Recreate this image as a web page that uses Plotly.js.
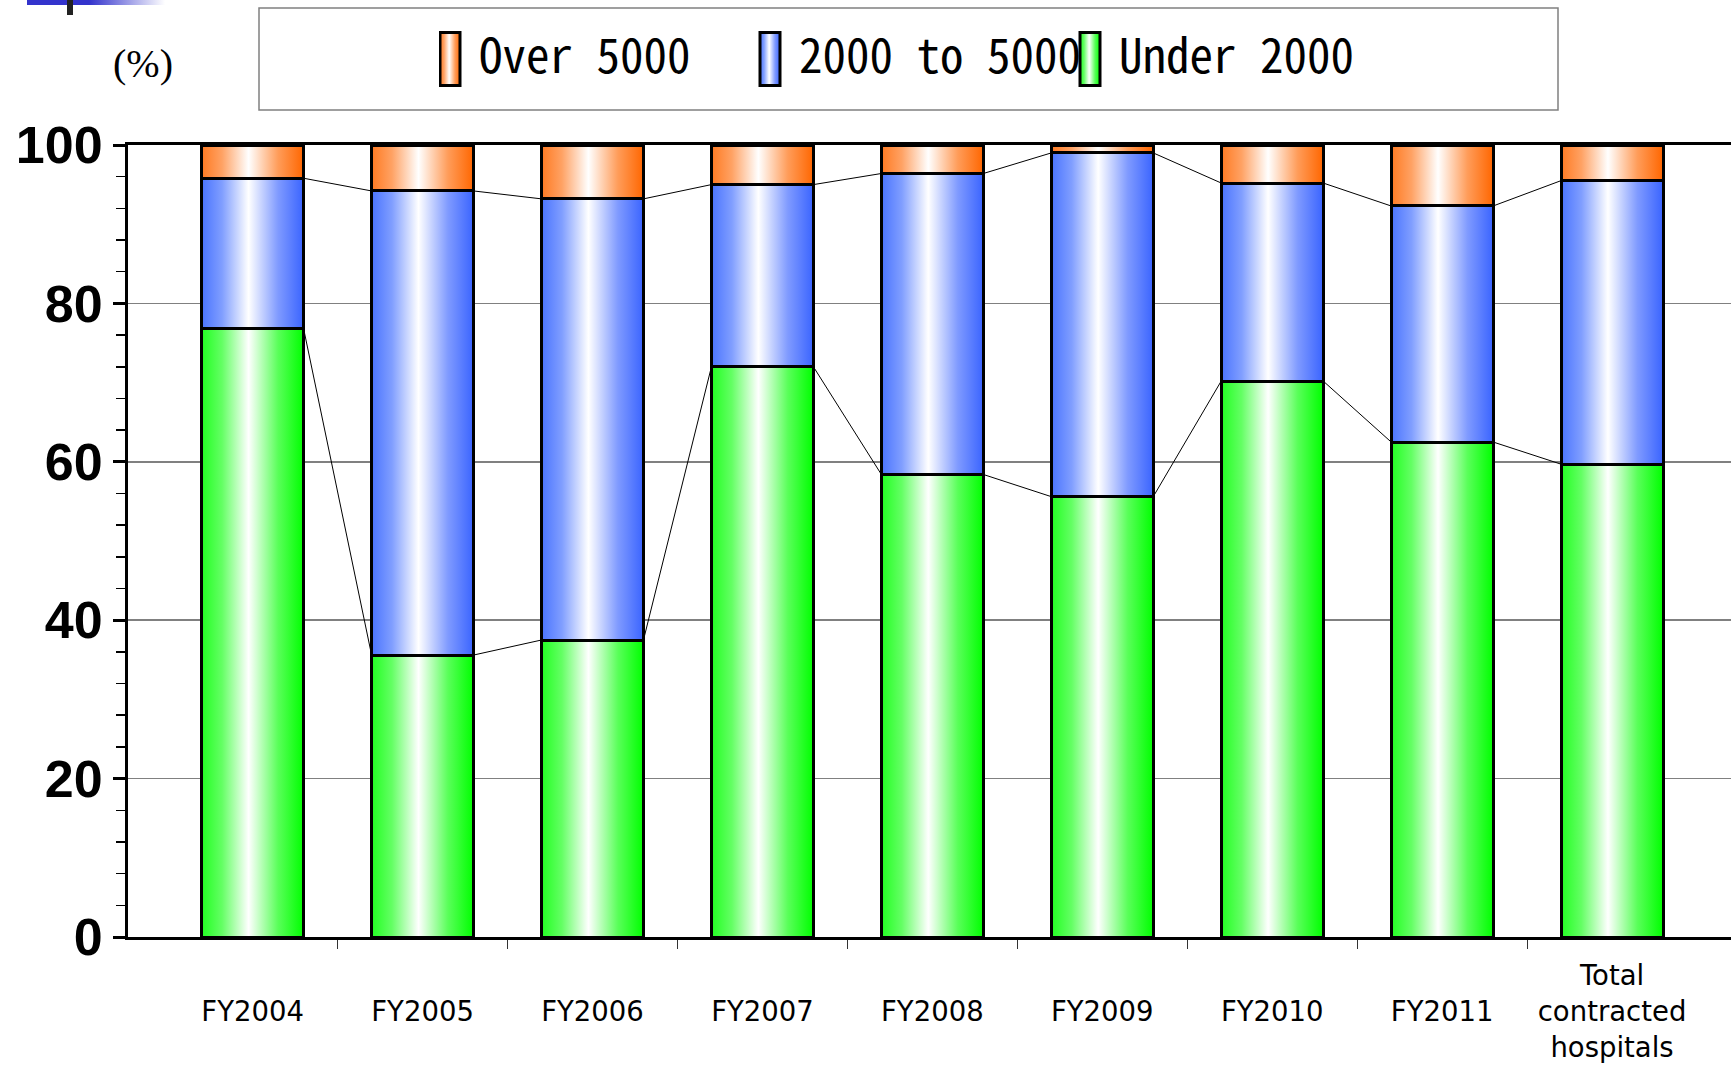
<!DOCTYPE html>
<html><head><meta charset="utf-8">
<script src="https://cdn.plot.ly/plotly-3.0.1.min.js"></script>
<style>html,body{margin:0;padding:0;background:#fff}#chart{width:1731px;height:1065px}</style>
</head><body><div id="chart"></div>
<script>
// ---- data ----
const categories = ["FY2004","FY2005","FY2006","FY2007","FY2008","FY2009","FY2010","FY2011","Total<br>contracted<br>hospitals"];
const seriesNames = ["Under 2000","2000 to 5000","Over 5000"];
const under2000      = [76.8, 35.6, 37.5, 72.0, 58.4, 55.6, 70.2, 62.5, 59.7];
const from2000to5000 = [19.0, 58.6, 55.7, 23.0, 38.0, 43.4, 25.0, 29.8, 35.8];
const over5000       = [ 4.2,  5.8,  6.8,  5.0,  3.6,  1.0,  4.8,  7.7,  4.5];
const yTickVals = [0, 20, 40, 60, 80, 100];

// ---- styling ----
const edgeColors = {"Under 2000":["#22ff22","#00ff00"], "2000 to 5000":["#4a74ff","#3a64ff"], "Over 5000":["#ff7a22","#ff6600"]};
const BARW = 0.6;
const xIdx = categories.map((c,i)=>i);
const tickText = categories.map(c => c.indexOf("<br>")>=0 ? c : "\u00a0<br>" + c);
const boundaries = categories.slice(1).map((c,i)=>i+0.5);

function barTrace(name, y){
  return {type:'bar', name:name, x:xIdx, y:y, width:BARW,
    marker:{color:edgeColors[name][1], line:{color:'#000', width:3}}, hoverinfo:'skip'};
}
function seriesLine(cum){
  const x=[], y=[];
  for(let i=0;i<cum.length-1;i++){ x.push(i+BARW/2, i+1-BARW/2, null); y.push(cum[i], cum[i+1], null); }
  return {type:'scatter', mode:'lines', x:x, y:y, line:{color:'#000', width:1}, showlegend:false, hoverinfo:'skip', connectgaps:false};
}
const cumLow = under2000.slice();
const cumMid = under2000.map((v,i)=>v+from2000to5000[i]);

const data = [
  barTrace(seriesNames[0], under2000),
  barTrace(seriesNames[1], from2000to5000),
  barTrace(seriesNames[2], over5000),
  seriesLine(cumLow),
  seriesLine(cumMid)
];

// pixel helpers for paper placement (plot area 128..1731 x, 145..937 y)
const PL=128, PR=1731, PT=145, PB=937;
const px = v => (v-PL)/(PR-PL);
const py = v => (PB-v)/(PB-PT);

const layout = {
  width:1731, height:1065,
  margin:{l:PL, r:1731-PR, t:PT, b:1065-PB, pad:0},
  paper_bgcolor:'#fff', plot_bgcolor:'#fff',
  barmode:'stack', hovermode:false, showlegend:true,
  legend:{orientation:'h', x:px(439), xanchor:'left', y:py(55), yanchor:'middle',
    traceorder:'reversed', entrywidth:275, entrywidthmode:'pixels',
    font:{family:'"Noto Sans Mono CJK JP","Noto Sans CJK JP","DejaVu Sans Mono",monospace', size:47, color:'#000'},
    bgcolor:'rgba(0,0,0,0)', borderwidth:0},
  xaxis:{range:[-0.7336, 8.700], tickmode:'array', tickvals:xIdx, ticktext:tickText, ticks:'',
    ticklabelstandoff:12,
    showline:true, linecolor:'#000', linewidth:3, mirror:true, showgrid:false, zeroline:false,
    tickfont:{family:'"DejaVu Sans", sans-serif', size:27.5, color:'#000'},
    minor:{tickmode:'array', tickvals:boundaries, ticks:'outside', ticklen:9, tickwidth:1, tickcolor:'#333', showgrid:false}},
  yaxis:{range:[0,100], tickmode:'linear', tick0:yTickVals[0], dtick:yTickVals[1]-yTickVals[0],
    ticks:'outside', ticklen:12, tickwidth:3, tickcolor:'#000',
    showline:true, linecolor:'#000', linewidth:3, showgrid:true, gridcolor:'#808080', gridwidth:1.5, zeroline:false,
    tickfont:{family:'"Liberation Sans", Arial, sans-serif', size:52, color:'#000', weight:700},
    minor:{dtick:4, tick0:0, ticks:'outside', ticklen:9, tickwidth:1.5, tickcolor:'#000', showgrid:false}},
  shapes:[
    {type:'rect', xref:'paper', yref:'paper', x0:px(259), x1:px(1558), y0:py(110), y1:py(8), line:{color:'#808080', width:1.5}, fillcolor:'rgba(0,0,0,0)'},
    {type:'rect', xref:'paper', yref:'paper', x0:px(27), x1:px(165), y0:py(5), y1:py(0), line:{width:0}, fillcolor:'#3333cc'},
    {type:'rect', xref:'paper', yref:'paper', x0:px(67), x1:px(73), y0:py(15), y1:py(0), line:{width:0}, fillcolor:'#222'}
  ],
  annotations:[
    {xref:'paper', yref:'paper', x:px(143), y:py(64), xanchor:'center', yanchor:'middle', showarrow:false,
     text:'(%)', font:{family:'"Liberation Serif","Times New Roman",serif', size:40, color:'#000'}}
  ]
};

function mix(hex, t){ // blend hex colour toward white by t
  const n = parseInt(hex.slice(1),16), r=n>>16, g=(n>>8)&255, b=n&255;
  const f = c => Math.round(c + (255-c)*t);
  return 'rgb('+f(r)+','+f(g)+','+f(b)+')';
}

Plotly.newPlot('chart', data, layout, {staticPlot:true, displayModeBar:false}).then(gd => {
  const ns = 'http://www.w3.org/2000/svg';
  const svg = gd.querySelector('svg.main-svg');
  const defs = document.createElementNS(ns, 'defs');
  svg.insertBefore(defs, svg.firstChild);
  function makeGrad(id, stops){
    const g = document.createElementNS(ns, 'linearGradient');
    g.setAttribute('id', id); g.setAttribute('x1','0'); g.setAttribute('y1','0'); g.setAttribute('x2','1'); g.setAttribute('y2','0');
    stops.forEach(([o,c])=>{
      const s = document.createElementNS(ns,'stop'); s.setAttribute('offset', o); s.setAttribute('stop-color', c); g.appendChild(s);
    });
    defs.appendChild(g);
  }
  const gradIds = seriesNames.map((n,i)=>'grad'+i);
  seriesNames.forEach((n,i)=>{
    const L = edgeColors[n][0], R = edgeColors[n][1];
    makeGrad(gradIds[i], [[0,L],[0.2,mix(L,0.3)],[0.46,'#ffffff'],[0.75,mix(R,0.35)],[1,R]]);
  });
  makeGrad('gradDeco', [[0,'#3333cc'],[0.45,'#3333cc'],[1,'#ffffff']]);

  gd.querySelectorAll('.barlayer .trace').forEach((t,i)=>{
    t.querySelectorAll('path').forEach(p=>{ p.style.fill = 'url(#'+gradIds[i]+')'; });
  });
  gd.querySelectorAll('.legend .traces').forEach(t=>{
    const txt = t.querySelector('.legendtext');
    const idx = seriesNames.indexOf(txt ? txt.textContent : '');
    const p = t.querySelector('.legendpoints path');
    if(p && idx>=0){
      p.setAttribute('d','M-19,-22H1V31H-19Z');
      p.style.fill = 'url(#'+gradIds[idx]+')';
      p.style.stroke = '#000'; p.style.strokeWidth = '3px';
    }
  });
  const deco = gd.querySelector('.shapelayer path[data-index="1"]');
  if(deco) deco.style.fill = 'url(#gradDeco)';
});
</script>
</body></html>
